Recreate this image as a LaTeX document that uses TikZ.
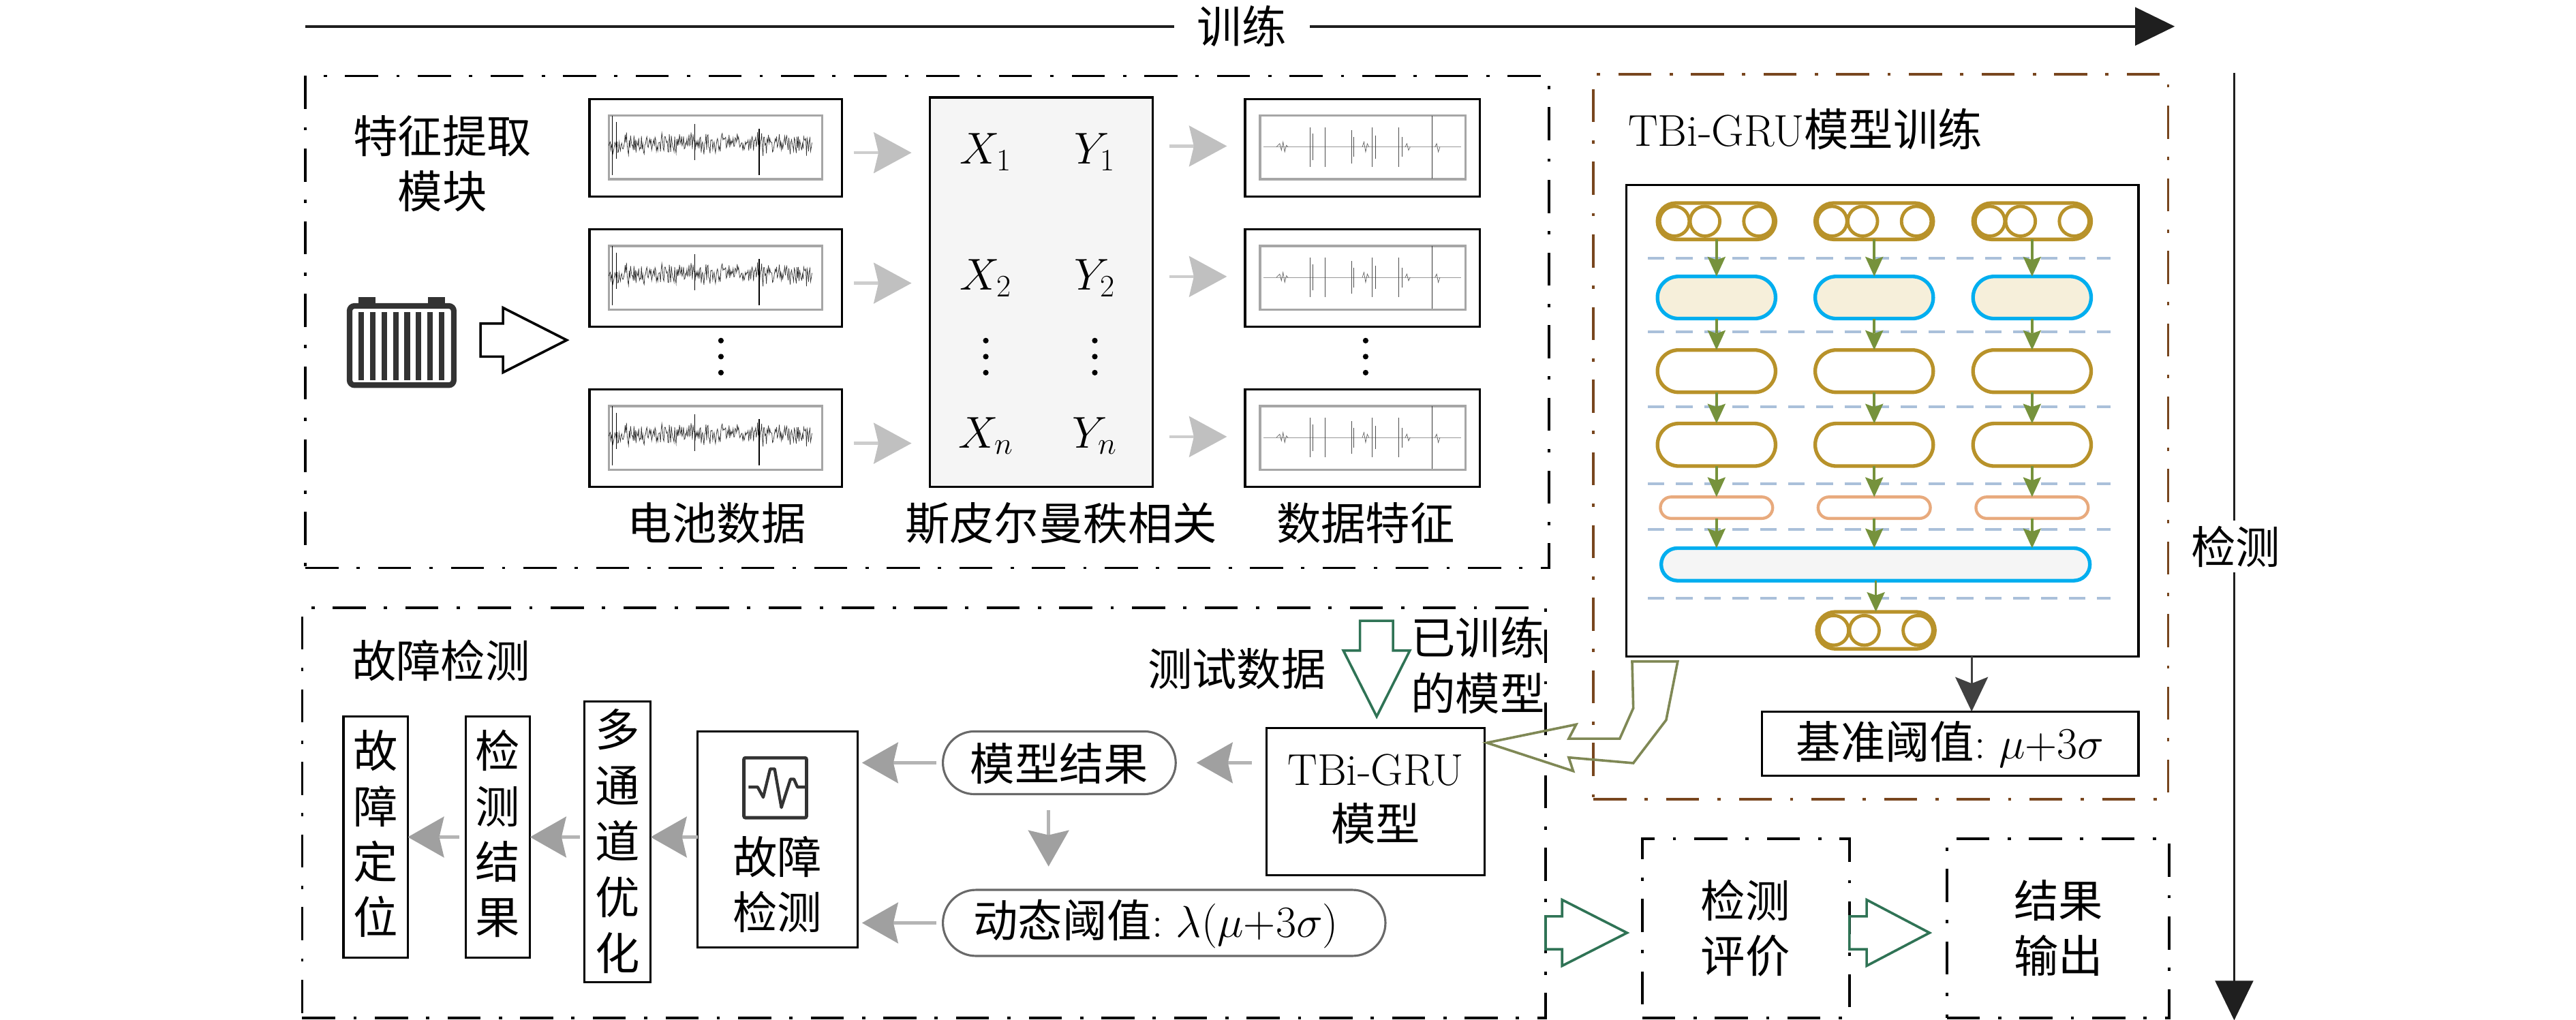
\RequirePackage{fix-cm}
\documentclass[tikz,border=0pt]{standalone}
\usepackage{fontspec}
\newfontfamily\cjk{Noto Sans CJK SC}
\usetikzlibrary{arrows.meta,calc,fit}

\definecolor{brownc}{RGB}{120,70,30}
\definecolor{goldc}{RGB}{184,146,42}
\definecolor{bluec}{RGB}{0,174,239}
\definecolor{beigec}{RGB}{246,239,218}
\definecolor{orangec}{RGB}{232,170,125}
\definecolor{dashc}{RGB}{170,192,218}
\definecolor{olivec}{RGB}{118,146,60}
\definecolor{olivearr}{RGB}{127,136,85}
\definecolor{greenc}{RGB}{47,115,85}
\definecolor{arrg}{RGB}{160,160,160}
\definecolor{arrgs}{RGB}{180,180,180}
\definecolor{arrl}{RGB}{192,192,192}
\definecolor{arrls}{RGB}{205,205,205}
\definecolor{rboxc}{RGB}{105,105,105}

\newcommand\zh{\cjk\fontsize{27}{33.5}\selectfont}
\newcommand\zhv{\cjk\fontsize{27}{33.9}\selectfont}

\newcommand\noisesig[2]{%
\begin{scope}[shift={(#1,#2)}]
\pgfmathsetseed{11}
\draw[line width=0.3pt, black!80] plot[domain=2:125, samples=300] (\x,{5*rand+3*rand});
\draw[line width=0.5pt] (4,-17) -- (4,19);
\draw[line width=0.4pt] (6.5,-13) -- (6.5,9);
\draw[line width=0.4pt] (54,-12) -- (54,10);
\draw[line width=0.5pt] (93,-9) -- (93,19);
\end{scope}}

\newcommand\featsig[2]{%
\begin{scope}[shift={(#1,#2)}]
\draw[line width=0.4pt, black!40] (2,0) -- (122,0);
\draw[line width=0.3pt, black!60] (10,0) -- (12,-2) -- (13,2) -- (14,-3) -- (15,3) -- (16,-1) -- (17,0);
\foreach \sx/\sh in {30.2/12, 32/8, 39.3/12, 55.4/10, 57/6, 68/12, 70/7, 84.1/12, 86/6}
  {\draw[line width=0.4pt, black!70] (\sx,-\sh) -- (\sx,\sh);}
\draw[line width=0.3pt, black!60] (62,0) -- (63,-3) -- (64,3) -- (65,-2) -- (66,0);
\draw[line width=0.3pt, black!60] (88,0) -- (89,-2) -- (90,2) -- (91,0);
\draw[line width=0.3pt, black!60] (106,0) -- (107,-2) -- (108,3) -- (109,0);
\draw[line width=0.5pt, black!80] (104.2,-19) -- (104.2,19);
\end{scope}}

\newcommand\vdotsat[2]{\foreach \dd in {-9.7,0,9.7} {\fill (#1,#2+\dd) circle (1.7pt);}}

\begin{document}
\begin{tikzpicture}[x=1pt,y=-1pt,
  every node/.style={inner sep=0pt, outer sep=0pt},
  ddframe/.style={draw, line width=1.5pt, dash pattern=on 20pt off 11pt on 2pt off 11pt},
  sbox/.style={draw, line width=1.3pt},
  inbox/.style={draw=black!35, line width=1.4pt},
  rbox/.style={draw=rboxc, line width=1.3pt, rounded corners=19pt},
  farr/.style={draw=arrls, line width=1.8pt, -{Stealth[length=23pt,width=25pt,inset=3pt,line width=0pt,color=arrl]}},
  grarr/.style={draw=arrgs, line width=1.8pt, -{Stealth[length=22pt,width=25pt,inset=3pt,line width=0pt,color=arrg]}},
  garr/.style={draw=olivec, line width=1.5pt, -{Stealth[length=12pt,width=11pt,inset=2pt,line width=0pt]}},
  darr/.style={draw=black!75, line width=1.2pt, -{Stealth[length=21pt,width=20pt,inset=4pt,line width=0pt]}},
  barr/.style={draw=black!88, -{Triangle[length=24pt,width=23pt]}},
  capg/.style={draw=goldc, line width=2.2pt, fill=white},
  capb/.style={draw=bluec, line width=2.2pt},
  capo/.style={draw=orangec, line width=1.8pt, fill=white},
  dline/.style={draw=dashc, line width=1.5pt, dash pattern=on 10pt off 7pt},
  hollow/.style={line width=1.5pt, line join=miter},
  txt/.style={font=\zh},
  vtxt/.style={font=\zhv, align=center}
]
\useasboundingbox (0,0) rectangle (1560,617.8);

% ---------- top and right arrows ----------
\coordinate (tA) at (185,16);
\coordinate (tB) at (1317,16);
\draw[barr, line width=1.7pt] (tA) -- (tB);
\node[txt, fill=white, inner xsep=14pt, inner ysep=3pt] (trn) at (752,16) {训练};
\coordinate (rA) at (1353,44);
\coordinate (rB) at (1353,618);
\draw[barr, line width=1.25pt] (rA) -- (rB);
\node[txt, fill=white, inner xsep=2pt, inner ysep=3pt] (det) at (1354,331) {检测};

% ---------- frames ----------
\node[ddframe, fit={(185,46)(938,344)}] (feat) {};
\node[ddframe, draw=brownc, fit={(965,45)(1313,484)}] (train) {};
\node[ddframe, fit={(183,368)(936,616.5)}] (fault) {};
\node[ddframe, fit={(994.5,508)(1120,616.5)}] (eval) {};
\node[vtxt, font=\zh] (evalt) at (1057,562) {检测\\评价};
\node[ddframe, fit={(1179,508)(1313.6,616.5)}] (outp) {};
\node[vtxt, font=\zh] (outpt) at (1246.7,562) {结果\\输出};

% ---------- feature extraction ----------
\node[txt, align=center] (ftitle) at (268,99) {特征提取\\模块};
% battery
\draw[line width=3.4pt, draw=black!80, rounded corners=3pt] (211.7,185.3) rectangle (274.8,233.3);
\fill[black!80] (217,180) rectangle (227.4,185);
\fill[black!80] (259,180) rectangle (269.5,185);
\foreach \k in {0,...,7} {\fill[black!80] (217.1+\k*6.95,189) rectangle ++(3.4,41.3);}
\draw[hollow] (291,196) -- (304.6,196) -- (304.6,186.4) -- (343.2,206) -- (304.6,225.6) -- (304.6,216) -- (291,216) -- cycle;

\node[sbox, fill=black!4, fit={(563,59)(698,295)}] (corr) {};

\foreach \i/\ya/\yb in {1/60/119, 2/139/198, 3/236/295} {
  \node[sbox, fit={(357,\ya)(510,\yb)}] (l\i) {};
  \node[inbox, fit={(368.7,\ya+10)(498,\yb-10.4)}] (li\i) {};
  \noisesig{366.7}{\ya+27}
  \node[sbox, fit={(754,\ya)(896,\yb)}] (r\i) {};
  \node[inbox, fit={(763,\ya+10)(887.4,\yb-10.4)}] (ri\i) {};
  \featsig{763}{\ya+29}
  \draw[farr] ($(l\i.east)+(7,3)$) -- ($(corr.west|-l\i.east)+(-11,3)$);
  \draw[farr] ($(corr.east|-r\i.west)+(10,-1)$) -- ($(r\i.west)+(-11,-1)$);
}

\node[txt] (x1) at (597,92) {$X_1$};
\node[txt] (y1) at (663,92) {$Y_1$};
\node[txt] (x2) at (597,168.5) {$X_2$};
\node[txt] (y2) at (663,168.5) {$Y_2$};
\node[txt] (xn) at (597,264) {$X_n$};
\node[txt] (yn) at (663,264) {$Y_n$};
\vdotsat{597}{216}
\vdotsat{663}{216}
\vdotsat{436.6}{216}
\vdotsat{827}{216}

\node[txt] (lab1) at (434,317) {电池数据};
\node[txt] (lab2) at (642.6,317) {斯皮尔曼秩相关};
\node[txt] (lab3) at (827,317) {数据特征};

% ---------- TBi-GRU training ----------
\node[txt, anchor=west] (gtitle) at (986,78) {{\rmfamily TBi-GRU}模型训练};
\node[sbox, fit={(985,112)(1295,397.5)}] (inner) {};

\foreach \yy in {156.5,201,246.4,293,320.6,362.4} {\draw[dline] (998,\yy) -- (1278,\yy);}

\foreach \j/\cx in {1/1039.5, 2/1135, 3/1230.6} {
  \node[capg, minimum width=71.5pt, minimum height=22pt, rounded corners=11pt] (a\j) at (\cx,134) {};
  \foreach \ox in {-25.5,-7,25.5} {\draw[goldc, line width=2pt] (\cx+\ox,134) circle (9pt);}
  \node[capb, fill=beigec, minimum width=71.5pt, minimum height=25.5pt, rounded corners=12.7pt] (b\j) at (\cx,180.2) {};
  \node[capg, minimum width=71.5pt, minimum height=25.6pt, rounded corners=12.8pt] (c\j) at (\cx,224.8) {};
  \node[capg, minimum width=71.5pt, minimum height=25.8pt, rounded corners=12.9pt] (d\j) at (\cx,269.4) {};
  \node[capo, minimum width=68pt, minimum height=13pt, rounded corners=6.5pt] (e\j) at (\cx,307.5) {};
}
\node[capb, fill=black!4, fit={(1006,332)(1265.6,351.7)}, rounded corners=9.8pt] (wide) {};
\node[capg, minimum width=71.5pt, minimum height=22.4pt, rounded corners=11.2pt] (fout) at (1136,381.8) {};
\foreach \ox in {-25.5,-7,25.5} {\draw[goldc, line width=2pt] (1136+\ox,381.8) circle (9pt);}

\foreach \j in {1,2,3} {
  \draw[garr] (a\j.south) -- (b\j.north);
  \draw[garr] (b\j.south) -- (c\j.north);
  \draw[garr] (c\j.south) -- (d\j.north);
  \draw[garr] (d\j.south) -- (e\j.north);
  \draw[garr] (e\j.south) -- (e\j.south|-wide.north);
}
\draw[garr] (wide.south-|fout.north) -- (fout.north);

\node[sbox, fit={(1067,431)(1295,470)}] (thr) {};
\node[txt] (thrt) at (1181,451) {基准阈值{\rmfamily :} $\mu{+}3\sigma$};
\coordinate (thrA) at ($(inner.south)+(54,0)$);
\draw[darr] (thrA) -- (thrA|-thr.north);

% ---------- fault detection ----------
\node[txt, anchor=west] (ftl) at (213,400) {故障检测};
\node[txt] (test) at (749,405) {测试数据};
\node[txt, align=center] (trained) at (895,403) {已训练\\的模型};
\draw[hollow, draw=greenc] (823.6,376) -- (843.6,376) -- (843.6,394) -- (853.8,394) -- (833.7,434) -- (813.5,394) -- (823.6,394) -- cycle;

\node[sbox, fit={(767,441)(899,530)}] (model) {};
\node[txt, align=center] (modelt) at (833,484) {{\rmfamily TBi-GRU}\\模型};
\node[rbox, fit={(571,443)(712,481)}] (mres) {};
\node[txt] (mrest) at (641.5,462.5) {模型结果};
\node[rbox, rounded corners=20pt, fit={(571,539)(839,579)}] (dyn) {};
\node[txt] (dynt) at (700,559.5) {动态阈值{\rmfamily :} $\lambda(\mu{+}3\sigma)$};

\node[sbox, fit={(422.5,443)(519.5,574)}] (fdet) {};
\node[txt, align=center] (fdett) at (470.7,535.5) {故障\\检测};
\draw[line width=2pt, draw=black!80, rounded corners=1pt] (450.5,459) rectangle (488.4,495.3);
\draw[line width=1.8pt, draw=black!80, line join=round] (453.3,476.7) -- (458.8,476.7) -- (462.2,482.9) -- (466.4,465.7) -- (469.1,465.7) -- (473.2,489.1) -- (478.7,471.9) -- (480.8,471.9) -- (482.9,476.7) -- (488.4,476.7);

\node[sbox, fit={(354,425)(394,595)}] (multi) {};
\node[vtxt] (multit) at (374,509.5) {多\\通\\道\\优\\化};
\node[sbox, fit={(282,434)(321,580)}] (dres) {};
\node[vtxt, font=\zh] (drest) at (301.5,505) {检\\测\\结\\果};
\node[sbox, fit={(208,434)(247,580)}] (floc) {};
\node[vtxt, font=\zh] (floct) at (227.5,505) {故\\障\\定\\位};

\draw[grarr] ($(model.west|-mres.east)+(-9,0)$) -- ($(mres.east)+(12.6,0)$);
\draw[grarr] ($(mres.south)+(-6.5,9.5)$) -- ($(mres.south)+(-6.5,43.8)$);
\draw[grarr] ($(mres.west)+(-4,0)$) -- ($(fdet.east|-mres.west)+(2.5,0)$);
\draw[grarr] ($(dyn.west)+(-4,0)$) -- ($(fdet.east|-dyn.west)+(2.5,0)$);
\draw[grarr] ($(fdet.west|-multi.east)+(0,-3)$) -- ($(multi.east)+(0,-3)$);
\draw[grarr] ($(multi.west)+(-3,-3)$) -- ($(dres.east|-multi.west)+(0,-3)$);
\draw[grarr] ($(dres.west)+(-4,0)$) -- ($(floc.east|-dres.west)+(0,0)$);

% trained model arrow (olive, bent)
\draw[hollow, draw=olivearr] (988.4,400.6) -- (1016,400.6) -- (1009,436.1) -- (989.1,462.2) -- (950,458.8) -- (952.7,467) -- (900.4,449.9) -- (954.5,438.8) -- (950,447.4) -- (980.9,447.4) -- (989.1,428.9) -- cycle;

% bottom green hollow arrows
\draw[hollow, draw=greenc] (936,555) -- (946,555) -- (946,545) -- (985.3,565) -- (946,585) -- (946,575) -- (936,575) -- cycle;
\draw[hollow, draw=greenc] (1120,555) -- (1130.4,555) -- (1130.4,545) -- (1168.5,565) -- (1130.4,585) -- (1130.4,575) -- (1120,575) -- cycle;
\end{tikzpicture}
\end{document}
